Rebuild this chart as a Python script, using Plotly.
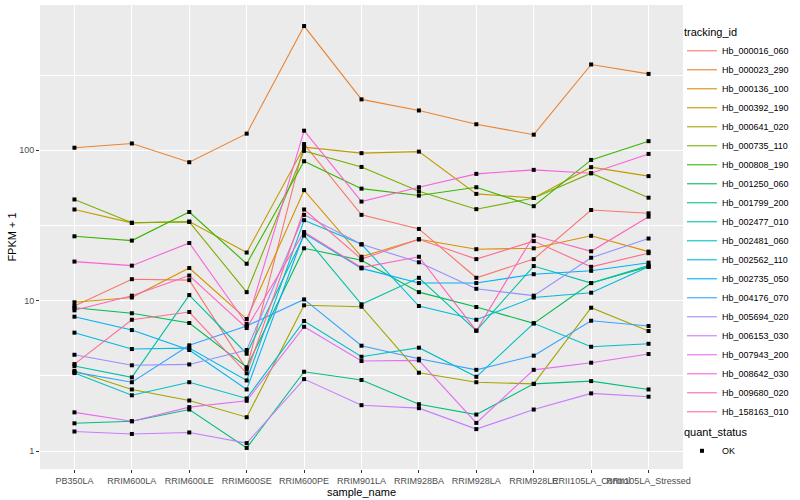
import plotly.graph_objects as go

sample_name = ["PB350LA", "RRIM600LA", "RRIM600LE", "RRIM600SE", "RRIM600PE",
               "RRIM901LA", "RRIM928BA", "RRIM928LA", "RRIM928LE",
               "RRII105LA_Control", "RRII105LA_Stressed"]

tracking_id = ["Hb_000016_060", "Hb_000023_290", "Hb_000136_100", "Hb_000392_190",
               "Hb_000641_020", "Hb_000735_110", "Hb_000808_190", "Hb_001250_060",
               "Hb_001799_200", "Hb_002477_010", "Hb_002481_060", "Hb_002562_110",
               "Hb_002735_050", "Hb_004176_070", "Hb_005694_020", "Hb_006153_030",
               "Hb_007943_200", "Hb_008642_030", "Hb_009680_020", "Hb_158163_010"]

# FPKM + 1 values, one list per gene, in sample_name order
hb_000016_060 = [9.22, 13.9, 13.7, 3.51, 110, 37.2, 30.0, 14.2, 18.9, 40.1, 38.1]
hb_000023_290 = [104, 111, 83.3, 129, 670, 218, 184, 149, 127, 372, 322]
hb_000136_100 = [9.76, 10.5, 16.5, 7.55, 54.3, 19.6, 25.6, 22.0, 22.3, 27.0, 21.2]
hb_000392_190 = [40.4, 32.9, 33.6, 20.9, 105, 95.7, 98.0, 51.3, 48.2, 77.2, 67.3]
hb_000641_020 = [3.42, 2.57, 2.17, 1.68, 9.32, 9.12, 3.32, 2.87, 2.80, 8.98, 6.29]
hb_000735_110 = [47.1, 33.0, 33.4, 11.4, 99.1, 77.5, 53.4, 40.6, 48.2, 70.4, 48.4]
hb_000808_190 = [26.8, 25.1, 38.9, 17.6, 84.6, 55.6, 50.0, 56.8, 42.5, 86.3, 115]
hb_001250_060 = [8.98, 8.25, 7.11, 3.61, 22.3, 18.6, 11.4, 9.08, 7.07, 13.1, 16.8]
hb_001799_200 = [1.53, 1.58, 1.89, 1.05, 3.37, 2.97, 2.05, 1.75, 2.80, 2.92, 2.57]
hb_002477_010 = [3.68, 3.09, 10.9, 4.44, 27.1, 9.46, 14.2, 6.32, 17.0, 13.1, 17.1]
hb_002481_060 = [3.30, 2.35, 2.87, 2.24, 7.33, 4.24, 4.87, 3.12, 7.07, 4.94, 5.17]
hb_002562_110 = [6.13, 4.77, 4.84, 2.95, 34.3, 23.7, 9.22, 7.47, 10.5, 11.3, 16.8]
hb_002735_050 = [7.83, 6.38, 4.70, 2.57, 28.1, 16.4, 13.1, 13.1, 15.0, 15.8, 17.9]
hb_004176_070 = [3.35, 2.87, 5.05, 6.79, 10.2, 5.02, 4.11, 3.47, 4.31, 7.36, 6.79]
hb_005694_020 = [4.37, 3.72, 3.77, 4.70, 37.2, 23.7, 18.0, 12.0, 10.8, 19.3, 25.9]
hb_006153_030 = [1.35, 1.30, 1.33, 1.13, 3.01, 2.02, 1.93, 1.40, 1.89, 2.42, 2.30]
hb_007943_200 = [1.81, 1.58, 1.96, 2.16, 6.71, 3.97, 4.01, 1.54, 3.47, 3.87, 4.42]
hb_008642_030 = [18.2, 17.1, 24.2, 7.0, 135, 45.6, 56.8, 69.7, 74.1, 70.4, 94.6]
hb_009680_020 = [8.63, 10.8, 14.7, 6.58, 28.6, 16.6, 19.6, 6.32, 27.1, 21.3, 36.2]
hb_158163_010 = [3.79, 7.47, 8.41, 3.29, 40.4, 18.9, 25.6, 18.9, 24.9, 16.8, 20.7]

quant_status = "OK"

series = [hb_000016_060, hb_000023_290, hb_000136_100, hb_000392_190, hb_000641_020,
          hb_000735_110, hb_000808_190, hb_001250_060, hb_001799_200, hb_002477_010,
          hb_002481_060, hb_002562_110, hb_002735_050, hb_004176_070, hb_005694_020,
          hb_006153_030, hb_007943_200, hb_008642_030, hb_009680_020, hb_158163_010]

colors = ["#F8766D", "#EA8331", "#D89000", "#C09B00", "#A3A500", "#7CAE00", "#39B600",
          "#00BB4E", "#00BF7D", "#00C1A3", "#00BFC4", "#00BAE0", "#00B0F6", "#35A2FF",
          "#9590FF", "#C77CFF", "#E76BF3", "#FA62DB", "#FF62BC", "#FF6C91"]

FONT = "Liberation Sans, Arial, Helvetica, sans-serif"

fig = go.Figure()
for name, vals, col in zip(tracking_id, series, colors):
    fig.add_trace(go.Scatter(x=sample_name, y=vals, mode="lines", name=name,
                             line=dict(color=col, width=1.1), legend="legend",
                             hoverinfo="skip"))

all_x = [s for vals in series for s in sample_name]
all_y = [v for vals in series for v in vals]
fig.add_trace(go.Scatter(x=all_x, y=all_y, mode="markers", name=quant_status,
                         marker=dict(symbol="square", size=4, color="black"),
                         legend="legend2"))

grid = dict(showgrid=True, gridcolor="white", zeroline=False, showline=False,
            ticks="outside", ticklen=3, tickcolor="#333333", tickwidth=1,
            tickfont=dict(size=9, color="#4D4D4D", family=FONT), automargin=False)

fig.update_layout(
    width=800, height=500,
    margin=dict(l=40, r=117, t=5, b=31, autoexpand=False),
    paper_bgcolor="white", plot_bgcolor="#EBEBEB",
    font=dict(family=FONT, size=9, color="black"),
    xaxis=dict(type="category", categoryorder="array", categoryarray=sample_name,
               range=[-0.6, 10.6], gridwidth=1.1, tickangle=0,
               title=dict(text="sample_name", font=dict(size=11, family=FONT), standoff=3),
               **grid),
    yaxis=dict(type="log", range=[-0.119, 2.966], tickvals=[1, 10, 100],
               ticktext=["1", "10", "100"], gridwidth=1.1,
               minor=dict(tickvals=[10 ** 0.5, 10 ** 1.5, 10 ** 2.5], showgrid=True,
                          gridcolor="white", gridwidth=0.55, ticks=""),
               title=dict(text="FPKM + 1", font=dict(size=11, family=FONT), standoff=0),
               **grid),
    legend=dict(title=dict(text="tracking_id", font=dict(size=11)),
                x=0.9984, y=0.9634, xanchor="left", yanchor="top",
                font=dict(size=9), itemwidth=30, tracegroupgap=0,
                bgcolor="rgba(0,0,0,0)"),
    legend2=dict(title=dict(text="quant_status", font=dict(size=11)),
                 x=0.9984, y=0.1013, xanchor="left", yanchor="top",
                 font=dict(size=9), itemwidth=30, bgcolor="rgba(0,0,0,0)"),
    showlegend=True,
)

fig.write_html("out.html", config={"displayModeBar": False},
               post_script="document.body.style.margin='0';")
